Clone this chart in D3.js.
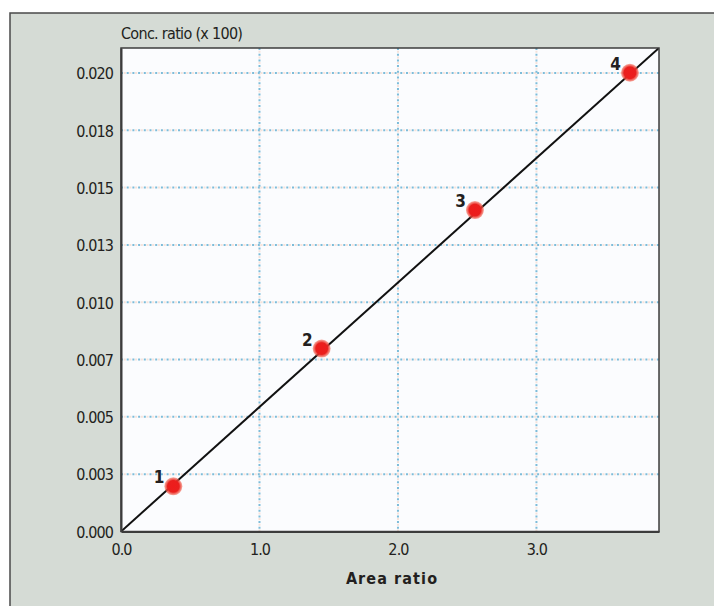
<!DOCTYPE html>
<html>
<head>
<meta charset="utf-8">
<script src="https://cdn.jsdelivr.net/npm/d3@7"></script>
<style>
  html, body { margin: 0; padding: 0; background: #fff; overflow: hidden; }
  svg { display: block; }
  svg text { font-family: "DejaVu Sans Condensed", "Liberation Sans Narrow", "Roboto", sans-serif; fill: #231f20; }
</style>
</head>
<body>
<script>
(function() {
  'use strict';

  // calibration points (area ratio, conc. ratio)
  const pointIds = ['1', '2', '3', '4'];
  const areaRatio = [0.378, 1.449, 2.556, 3.675];
  const concRatio = [0.00197, 0.00798, 0.01402, 0.02001];

  // fitted line through origin
  const fitSlope = 0.005429;
  const fitIntercept = 0;

  const xTicks = [0, 1, 2, 3];
  const xTickLabels = ['0.0', '1.0', '2.0', '3.0'];
  const yTicks = [0, 0.0025, 0.005, 0.0075, 0.01, 0.0125, 0.015, 0.0175, 0.02];
  const yTickLabels = ['0.000', '0.003', '0.005', '0.007', '0.010', '0.013', '0.015', '0.018', '0.020'];
  const xDomain = [0, 3.885];
  const yDomain = [0, 0.02109];

  const w = 714;
  const h = 606;
  const left = 121, right = 659, top = 48, bottom = 531.5;
  const tickFont = '"DejaVu Sans Condensed", "Liberation Sans Narrow", sans-serif';

  const xScale = d3.scaleLinear().domain(xDomain).range([left, right]);
  const yScale = d3.scaleLinear().domain(yDomain).range([bottom, top]);

  const svg = d3.select('body')
    .append('svg')
    .attr('width', w)
    .attr('height', h);

  const defs = svg.append('defs');
  const grad = defs.append('radialGradient').attr('id', 'dot');
  grad.append('stop').attr('offset', '0%').attr('stop-color', '#ee1c1c');
  grad.append('stop').attr('offset', '65%').attr('stop-color', '#ea1f1d');
  grad.append('stop').attr('offset', '100%').attr('stop-color', '#f26a55').attr('stop-opacity', 0.55);
  defs.append('clipPath').attr('id', 'plot')
    .append('rect')
    .attr('x', left).attr('y', top)
    .attr('width', right - left).attr('height', bottom - top);

  // outer panel (runs off the right and bottom edges)
  svg.append('rect')
    .attr('x', 10).attr('y', 13)
    .attr('width', 740).attr('height', 640)
    .attr('fill', '#d5dbd5')
    .attr('stroke', '#4a4a4a')
    .attr('stroke-width', 1.5);

  // plot background
  svg.append('rect')
    .attr('x', left).attr('y', top)
    .attr('width', right - left).attr('height', bottom - top)
    .attr('fill', '#fbfcfe');

  // grid lines
  const grid = svg.append('g');
  const gridStyles = [
    {color: '#f6e2da', offset: 3},
    {color: '#7dbcd9', offset: 0}
  ];
  gridStyles.forEach(s => {
    grid.append('g').selectAll('line')
      .data(yTicks.slice(1))
      .enter().append('line')
      .attr('x1', left).attr('x2', right)
      .attr('y1', d => yScale(d)).attr('y2', d => yScale(d))
      .attr('stroke', s.color)
      .attr('stroke-width', 2)
      .attr('stroke-dasharray', '2,3.7')
      .attr('stroke-dashoffset', s.offset);
    grid.append('g').selectAll('line')
      .data(xTicks.slice(1))
      .enter().append('line')
      .attr('x1', d => xScale(d)).attr('x2', d => xScale(d))
      .attr('y1', top).attr('y2', bottom)
      .attr('stroke', s.color)
      .attr('stroke-width', 2)
      .attr('stroke-dasharray', '2,3.7')
      .attr('stroke-dashoffset', s.offset);
  });

  // fitted line
  svg.append('line')
    .attr('clip-path', 'url(#plot)')
    .attr('x1', xScale(xDomain[0]))
    .attr('y1', yScale(fitIntercept + fitSlope * xDomain[0]))
    .attr('x2', xScale(xDomain[1]))
    .attr('y2', yScale(fitIntercept + fitSlope * xDomain[1]))
    .attr('stroke', '#111')
    .attr('stroke-width', 2);

  // plot frame
  svg.append('rect')
    .attr('x', left).attr('y', top)
    .attr('width', right - left).attr('height', bottom - top)
    .attr('fill', 'none')
    .attr('stroke', '#3c3c3c')
    .attr('stroke-width', 1.5);

  // axes
  const yAxis = d3.axisLeft(yScale)
    .tickValues(yTicks)
    .tickFormat((d, i) => yTickLabels[i])
    .tickSize(0)
    .tickPadding(8);
  const gy = svg.append('g')
    .attr('transform', 'translate(' + left + ',0)')
    .call(yAxis);
  gy.select('.domain').attr('stroke', '#3c3c3c').attr('stroke-width', 2);
  gy.selectAll('text')
    .attr('font-size', 16)
    .attr('letter-spacing', -0.9)
    .attr('dy', '0.36em')
    .attr('fill', '#231f20')
    .style('font-family', tickFont);

  const xAxis = d3.axisBottom(xScale)
    .tickValues(xTicks)
    .tickFormat((d, i) => xTickLabels[i])
    .tickSize(0)
    .tickPadding(12);
  const gx = svg.append('g')
    .attr('transform', 'translate(0,' + bottom + ')')
    .call(xAxis);
  gx.select('.domain').attr('stroke', '#3c3c3c').attr('stroke-width', 2);
  gx.selectAll('text')
    .attr('font-size', 16)
    .attr('letter-spacing', -0.9)
    .attr('fill', '#231f20')
    .style('font-family', tickFont);

  // points
  const pts = pointIds.map((id, i) => ({id: id, x: areaRatio[i], y: concRatio[i]}));
  svg.append('g').selectAll('circle')
    .data(pts)
    .enter().append('circle')
    .attr('cx', d => xScale(d.x))
    .attr('cy', d => yScale(d.y))
    .attr('r', 9)
    .attr('fill', 'url(#dot)');

  svg.append('g').selectAll('text')
    .data(pts)
    .enter().append('text')
    .attr('x', d => xScale(d.x) - 9)
    .attr('y', d => yScale(d.y) - 3)
    .attr('text-anchor', 'end')
    .attr('font-size', 17)
    .attr('font-weight', 'bold')
    .text(d => d.id);

  // axis titles
  svg.append('text')
    .attr('x', left)
    .attr('y', 39)
    .attr('font-size', 16)
    .attr('letter-spacing', -0.7)
    .text('Conc. ratio (x 100)');

  svg.append('text')
    .attr('x', 392)
    .attr('y', 584)
    .attr('text-anchor', 'middle')
    .attr('font-size', 16)
    .attr('font-weight', 'bold')
    .attr('letter-spacing', 1.1)
    .text('Area ratio');
}());
</script>
</body>
</html>
